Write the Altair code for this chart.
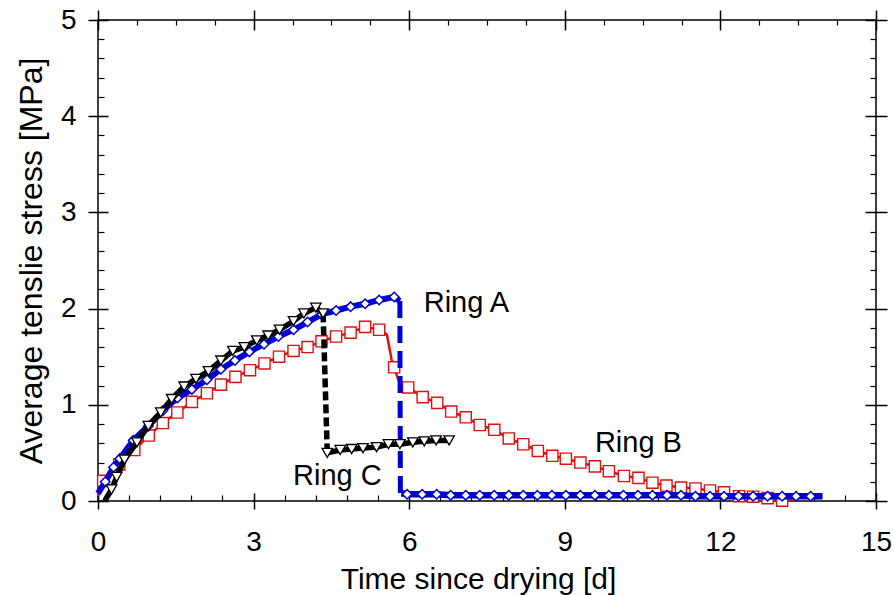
import altair as alt
import pandas as pd

FONT = "Liberation Sans"

# ---------------- data ----------------
# Ring A (blue)
a_rise_x = [0.0, 0.14, 0.30, 0.42, 0.68, 0.97, 1.25, 1.53, 1.81, 2.10, 2.37, 2.64, 2.92,
            3.20, 3.48, 3.77, 4.04, 4.31, 4.59, 4.87, 5.15, 5.42, 5.71, 5.82]
a_rise_y = [0.08, 0.20, 0.35, 0.44, 0.63, 0.78, 0.94, 1.07, 1.16, 1.26, 1.37, 1.46, 1.55,
            1.63, 1.71, 1.78, 1.86, 1.94, 1.98, 2.02, 2.05, 2.09, 2.12, 2.08]
a_drop_x = [5.82, 5.83]
a_drop_y = [2.08, 0.08]
a_flat_x = [5.85, 5.96, 6.25, 6.53, 6.80, 7.09, 7.36, 7.64, 7.92, 8.20, 8.47, 8.75, 9.02,
            9.30, 9.58, 9.85, 10.13, 10.41, 10.69, 10.97, 11.24, 11.52, 11.80, 12.07,
            12.35, 12.63, 12.91, 13.19, 13.46, 13.74, 13.97]
a_flat_y = [0.08, 0.07, 0.07, 0.07, 0.06, 0.06, 0.06, 0.06, 0.06, 0.06, 0.06, 0.06, 0.06,
            0.06, 0.06, 0.06, 0.06, 0.06, 0.06, 0.06, 0.06, 0.05, 0.05, 0.05,
            0.05, 0.05, 0.05, 0.05, 0.05, 0.05, 0.05]

# Ring B (red)
b_x = [0.0, 0.10, 0.41, 0.70, 0.98, 1.25, 1.53, 1.81, 2.10, 2.37, 2.65, 2.93, 3.21, 3.49,
       3.77, 4.04, 4.31, 4.59, 4.87, 5.15, 5.42, 5.57, 5.66, 5.71, 5.79, 5.98, 6.26, 6.54,
       6.81, 7.09, 7.36, 7.64, 7.92, 8.20, 8.48, 8.76, 9.02, 9.30, 9.58, 9.85, 10.14,
       10.42, 10.69, 10.96, 11.24, 11.52, 11.80, 12.07, 12.36, 12.63, 12.91, 13.19, 13.40]
b_y = [0.05, 0.21, 0.38, 0.53, 0.68, 0.81, 0.92, 1.03, 1.12, 1.21, 1.29, 1.36, 1.43, 1.50,
       1.56, 1.60, 1.66, 1.71, 1.75, 1.81, 1.78, 1.73, 1.47, 1.39, 1.26, 1.18, 1.08, 1.02,
       0.93, 0.87, 0.79, 0.74, 0.65, 0.59, 0.52, 0.47, 0.44, 0.40, 0.36, 0.31, 0.26,
       0.24, 0.19, 0.16, 0.14, 0.13, 0.11, 0.09, 0.05, 0.045, 0.03, 0.003, 0.01]
b_sq_x = [0.10, 0.41, 0.70, 0.98, 1.25, 1.53, 1.81, 2.10, 2.37, 2.65, 2.93, 3.21, 3.49,
          3.77, 4.04, 4.31, 4.59, 4.87, 5.15, 5.42, 5.71, 5.98, 6.26, 6.54,
          6.81, 7.09, 7.36, 7.64, 7.92, 8.20, 8.48, 8.76, 9.02, 9.30, 9.58, 9.85, 10.14,
          10.42, 10.69, 10.96, 11.24, 11.52, 11.80, 12.07, 12.36, 12.63, 12.91, 13.19]
b_sq_y = [0.21, 0.38, 0.53, 0.68, 0.81, 0.92, 1.03, 1.12, 1.21, 1.29, 1.36, 1.43, 1.50,
          1.56, 1.60, 1.66, 1.71, 1.75, 1.81, 1.78, 1.39, 1.18, 1.08, 1.02,
          0.93, 0.87, 0.79, 0.74, 0.65, 0.59, 0.52, 0.47, 0.44, 0.40, 0.36, 0.31, 0.26,
          0.24, 0.19, 0.16, 0.14, 0.13, 0.11, 0.09, 0.05, 0.045, 0.03, 0.003]

# Ring C (black)
c_rise_x = [0.13, 0.26, 0.36, 0.51, 0.75, 0.97, 1.21, 1.42, 1.66, 1.89, 2.13, 2.37, 2.60,
            2.82, 3.06, 3.28, 3.50, 3.77, 3.97, 4.20, 4.34]
c_rise_y = [0.0, 0.12, 0.25, 0.43, 0.61, 0.78, 0.92, 1.06, 1.19, 1.27, 1.35, 1.46, 1.56,
            1.60, 1.67, 1.72, 1.78, 1.87, 1.95, 2.01, 1.95]
c_drop_x = [4.34, 4.42]
c_drop_y = [1.95, 0.50]
c_flat_x = [4.42, 4.67, 4.89, 5.11, 5.37, 5.60, 5.82, 6.07, 6.29, 6.52, 6.77]
c_flat_y = [0.50, 0.53, 0.54, 0.55, 0.56, 0.59, 0.59, 0.61, 0.62, 0.63, 0.63]

# labels
lab_text = ["Ring A", "Ring B", "Ring C"]
lab_x = [6.28, 9.58, 3.76]
lab_y = [1.965, 0.51, 0.166]

# axes
x_major = [0, 3, 6, 9, 12, 15]
x_minor = [0.6, 1.2, 1.8, 2.4, 3.6, 4.2, 4.8, 5.4, 6.6, 7.2, 7.8, 8.4,
           9.6, 10.2, 10.8, 11.4, 12.6, 13.2, 13.8, 14.4]
x_minor_top = [0.75, 1.5, 2.25, 3.75, 4.5, 5.25, 6.75, 7.5, 8.25,
               9.75, 10.5, 11.25, 12.75, 13.5, 14.25]
y_major = [0, 1, 2, 3, 4, 5]
y_minor = [0.2, 0.4, 0.6, 0.8, 1.2, 1.4, 1.6, 1.8, 2.2, 2.4, 2.6, 2.8,
           3.2, 3.4, 3.6, 3.8, 4.2, 4.4, 4.6, 4.8]

BLUE = "#0000d0"
RED = "#e01010"
BLACK = "#000000"

XS = alt.Scale(domain=[0, 15], nice=False, zero=False)
YS = alt.Scale(domain=[0, 5], nice=False, zero=False)


def df(xs, ys):
    return pd.DataFrame({"x": xs, "y": ys, "i": list(range(len(xs)))})


def enc(chart, xaxis=None, yaxis=None, xtitle="", ytitle=""):
    xk = dict(scale=XS, title=xtitle)
    yk = dict(scale=YS, title=ytitle)
    xk["axis"] = xaxis
    yk["axis"] = yaxis
    return chart.encode(x=alt.X("x:Q", **xk), y=alt.Y("y:Q", **yk), order="i:Q")


def line(xs, ys, color, width, dash=None):
    kw = dict(color=color, strokeWidth=width, strokeCap="butt", strokeJoin="round")
    if dash is not None:
        kw["strokeDash"] = dash
    return enc(alt.Chart(df(xs, ys)).mark_line(**kw))


def pts(xs, ys, shape, stroke, size, sw=1.5):
    return enc(alt.Chart(df(xs, ys)).mark_point(
        shape=shape, filled=True, fill="white", stroke=stroke, strokeWidth=sw,
        size=size, opacity=1, fillOpacity=1, strokeOpacity=1))


layers = [
    line(b_x, b_y, RED, 2.5),
    pts(b_sq_x, b_sq_y, "square", RED, 125, 1.4),
    line(a_rise_x, a_rise_y, BLUE, 6),
    line(a_drop_x, a_drop_y, BLUE, 5, [17, 8]),
    line(a_flat_x, a_flat_y, BLUE, 6.5),
    pts(a_rise_x[1:-1], a_rise_y[1:-1], "diamond", BLUE, 90),
    pts(a_flat_x[1:-1], a_flat_y[1:-1], "diamond", BLUE, 90),
    line(c_rise_x, c_rise_y, BLACK, 5.5),
    line(c_drop_x, c_drop_y, BLACK, 5.5, [9, 4]),
    line(c_flat_x, c_flat_y, BLACK, 5.5),
    pts(c_rise_x[1:], c_rise_y[1:], "triangle-down", BLACK, 110, 1.3),
    pts(c_flat_x, c_flat_y, "triangle-down", BLACK, 110, 1.3),
]

labels = alt.Chart(pd.DataFrame({"t": lab_text, "x": lab_x, "y": lab_y})).mark_text(
    align="left", baseline="alphabetic", font=FONT, fontSize=29, color="black"
).encode(x=alt.X("x:Q", scale=XS, axis=None), y=alt.Y("y:Q", scale=YS, axis=None), text="t:N")
layers.append(labels)

common = dict(domain=False, grid=False, tickColor="black", labelFont=FONT, titleFont=FONT,
              labelColor="black", titleColor="black", labelFlush=False, labelOverlap=False)

ax_bottom = alt.Axis(orient="bottom", values=x_major, tickSize=16, offset=-8, tickWidth=1.5,
                     labelFontSize=28, labelPadding=19, titleFontSize=30, titleFontWeight="normal",
                     titlePadding=8, titleX=380, format="d", **common)
ax_left = alt.Axis(orient="left", values=y_major, tickSize=20, offset=-10, tickWidth=1.5,
                   labelFontSize=28, labelPadding=12, titleFontSize=32, titleFontWeight="normal",
                   titlePadding=12, format="d", **common)
ax_bottom_minor = alt.Axis(orient="bottom", values=x_minor, tickSize=6, offset=-6, tickWidth=1.2,
                           labels=False, **common)
ax_left_minor = alt.Axis(orient="left", values=y_minor, tickSize=6, offset=-6, tickWidth=1.2,
                         labels=False, **common)
ax_top = alt.Axis(orient="top", values=x_major, tickSize=20, offset=-10, tickWidth=1.5,
                  labels=False, **common)
ax_right = alt.Axis(orient="right", values=y_major, tickSize=22, offset=-11, tickWidth=1.5,
                    labels=False, **common)
ax_top_minor = alt.Axis(orient="top", values=x_minor_top, tickSize=5, offset=-5, tickWidth=1.2,
                        labels=False, **common)
ax_right_minor = alt.Axis(orient="right", values=y_minor, tickSize=6, offset=-6, tickWidth=1.2,
                          labels=False, **common)

anchor = pd.DataFrame({"x": [0], "y": [0], "i": [0]})


def axis_layer(xa, ya, xt="", yt=""):
    return enc(alt.Chart(anchor).mark_point(opacity=0), xa, ya, xt, yt)


layers += [
    axis_layer(ax_bottom, ax_left, "Time since drying [d]", "Average tenslie stress [MPa]"),
    axis_layer(ax_bottom_minor, ax_left_minor),
    axis_layer(ax_top, ax_right),
    axis_layer(ax_top_minor, ax_right_minor),
]

chart = alt.layer(*layers).resolve_axis(x="independent", y="independent").properties(
    width=778, height=481,
    autosize=alt.AutoSizeParams(type="none"),
    padding={"left": 98, "top": 20, "right": 18, "bottom": 94},
    background="white",
).configure_view(stroke="black", strokeWidth=1.5)

chart.save("out.html", embed_options={"renderer": "svg", "actions": False})
